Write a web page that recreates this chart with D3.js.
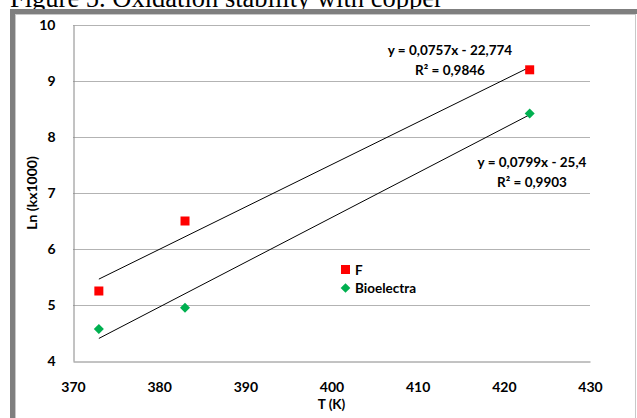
<!DOCTYPE html>
<html><head><meta charset="utf-8">
<script src="https://cdn.jsdelivr.net/npm/d3@7"></script>
<style>body{margin:0;background:#fff;} svg{display:block;}</style>
</head><body>
<script>
const seriesNames = ["F", "Bioelectra"];
const temperatures = [373, 383, 423];
const fValues = [5.25, 6.5, 9.2];
const bioValues = [4.57, 4.95, 8.42];
const xTicks = [370, 380, 390, 400, 410, 420, 430];
const yTicks = [4, 5, 6, 7, 8, 9, 10];
const trendF = {slope: 0.0757, intercept: -22.774, eq: "y = 0,0757x - 22,774", r2: "R² = 0,9846"};
const trendB = {slope: 0.0799, intercept: -25.4, eq: "y = 0,0799x - 25,4", r2: "R² = 0,9903"};

const W = 637, H = 418;
const svg = d3.select("body").append("svg").attr("width", W).attr("height", H);
const font = "Lato, 'Open Sans', sans-serif";

// title (cut at top)
svg.append("text").attr("x", 10).attr("y", 7).attr("font-family", "'Liberation Serif', serif")
  .attr("font-size", 26.5).attr("fill", "#000").text("Figure 5. Oxidation stability with copper");

// frame
svg.append("rect").attr("x", 12.5).attr("y", 11.5).attr("width", 640).attr("height", 420)
  .attr("fill", "#fff").attr("stroke", "#7f7f7f").attr("stroke-width", 5);
svg.append("rect").attr("x", 15.5).attr("y", 14.5).attr("width", 620).attr("height", 420)
  .attr("fill", "none").attr("stroke", "#c8c8c8").attr("stroke-width", 1);

const x = d3.scaleLinear().domain([370, 430]).range([73, 590]);
const y = d3.scaleLinear().domain([4, 10]).range([361, 25]);

// gridlines
svg.append("g").selectAll("line").data(yTicks.filter(d => d > 4)).join("line")
  .attr("x1", x(370)).attr("x2", x(430)).attr("y1", d => Math.round(y(d)) + 0.5).attr("y2", d => Math.round(y(d)) + 0.5)
  .attr("stroke", "#b3b3b3").attr("stroke-width", 1);

// axes
const xAxis = svg.append("g").attr("transform", `translate(0,${Math.round(y(4)) + 0.5})`)
  .call(d3.axisBottom(x).tickValues(xTicks).tickFormat(d3.format("d")).tickSize(0).tickPadding(21));
const yAxis = svg.append("g").attr("transform", `translate(${Math.round(x(370)) + 0.5},0)`)
  .call(d3.axisLeft(y).tickValues(yTicks).tickFormat(d3.format("d")).tickSize(0).tickPadding(18));
[xAxis, yAxis].forEach(g => {
  g.select(".domain").attr("stroke", "#868686");
  g.selectAll("text").attr("font-family", font).attr("font-weight", "bold").attr("font-size", 14).attr("fill", "#000");
});

// axis titles
svg.append("text").attr("x", x(400)).attr("y", 409).attr("text-anchor", "middle")
  .attr("font-family", font).attr("font-weight", "bold").attr("font-size", 13.5).text("T (K)");
svg.append("text").attr("transform", "translate(37,193) rotate(-90)").attr("text-anchor", "middle")
  .attr("font-family", font).attr("font-weight", "bold").attr("font-size", 14).text("Ln (kx1000)");

// trendlines
[trendF, trendB].forEach(t => {
  const x0 = d3.min(temperatures), x1 = d3.max(temperatures);
  svg.append("line").attr("x1", x(x0)).attr("y1", y(t.slope * x0 + t.intercept))
    .attr("x2", x(x1)).attr("y2", y(t.slope * x1 + t.intercept))
    .attr("stroke", "#000").attr("stroke-width", 1);
});

// points
svg.append("g").selectAll("rect").data(temperatures.map((t, i) => [t, fValues[i]])).join("rect")
  .attr("x", d => x(d[0]) - 4.5).attr("y", d => y(d[1]) - 4.5).attr("width", 9).attr("height", 9).attr("fill", "#ff0000");
const diamond = d3.symbol().type(d3.symbolDiamond2).size(64);
svg.append("g").selectAll("path").data(temperatures.map((t, i) => [t, bioValues[i]])).join("path")
  .attr("d", diamond).attr("transform", d => `translate(${x(d[0])},${y(d[1])})`).attr("fill", "#00b050");

// equations
const eqs = [
  {t: trendF, cx: 450, cy: 50},
  {t: trendB, cx: 532, cy: 162}
];
eqs.forEach(e => {
  svg.append("text").attr("x", e.cx).attr("y", e.cy + 5).attr("text-anchor", "middle")
    .attr("font-family", font).attr("font-weight", "bold").attr("font-size", 13.5).text(e.t.eq);
  svg.append("text").attr("x", e.cx).attr("y", e.cy + 25).attr("text-anchor", "middle")
    .attr("font-family", font).attr("font-weight", "bold").attr("font-size", 13.5).text(e.t.r2);
});

// legend
const lg = svg.append("g");
lg.append("rect").attr("x", 341).attr("y", 265).attr("width", 9).attr("height", 9).attr("fill", "#ff0000");
lg.append("path").attr("d", d3.symbol().type(d3.symbolDiamond2).size(60)).attr("transform", "translate(345.5,288)").attr("fill", "#00b050");
lg.append("text").attr("x", 355).attr("y", 274.5).attr("font-family", font).attr("font-weight", "bold").attr("font-size", 13.5).text(seriesNames[0]);
lg.append("text").attr("x", 355).attr("y", 293).attr("font-family", font).attr("font-weight", "bold").attr("font-size", 13.5).text(seriesNames[1]);
</script>
</body></html>
